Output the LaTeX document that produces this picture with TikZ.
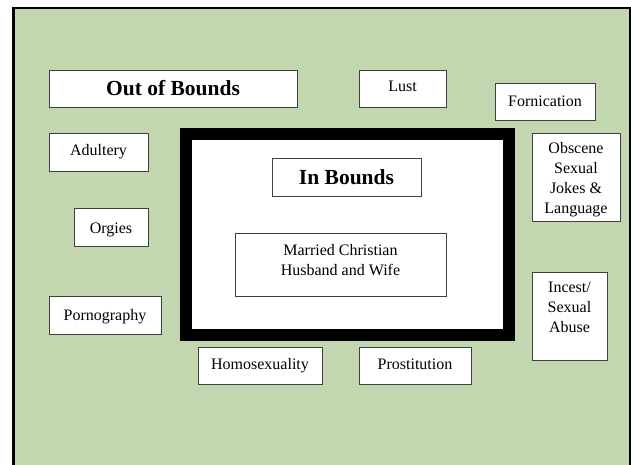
\documentclass[tikz,border=0pt]{standalone}
\usepackage{fontspec}
\setmainfont{Liberation Serif}
\definecolor{bggreen}{RGB}{194,215,176}
\definecolor{boxline}{RGB}{64,64,64}
\newcommand{\liftlines}[2]{\raisebox{#1}[\height][\depth]{\begin{tabular}{@{}c@{}}#2\end{tabular}}}
\tikzset{
  lbl/.style={draw=boxline, line width=1pt, fill=white, inner sep=0pt, align=center,
    font=\fontsize{16}{20}\selectfont},
  hdr/.style={lbl, font=\fontsize{21.5}{24}\selectfont\bfseries},
}
\begin{document}
\begin{tikzpicture}[x=1pt,y=-1pt]
\useasboundingbox (0,0) rectangle (631,464);
\begin{scope}
\clip (0,0) rectangle (631,464);
\fill[bggreen] (12,7) rectangle (631,470);
\draw[line width=2.5pt] (13.5,470) -- (13.5,8) -- (630,8) -- (630,470);
\end{scope}
% in-bounds frame
\node[draw=black, line width=12pt, fill=white, minimum width=323pt, minimum height=200.5pt, inner sep=0pt] (frame) at (347.5,234.25) {};
% headers
\node[hdr, minimum width=248pt, minimum height=37pt] (out) at (173,88.5) {Out of Bounds};
\node[hdr, minimum width=149pt, minimum height=38pt] (in) at (346.5,177) {In Bounds};
\node[lbl, minimum width=211pt, minimum height=63pt] (married) at (340.5,264.5) {\liftlines{3.5pt}{Married Christian\\Husband and Wife}};
% out of bounds items
\node[lbl, minimum width=87pt, minimum height=37pt] (lust) at (402.5,88.5) {\liftlines{1pt}{Lust}};
\node[lbl, minimum width=100pt, minimum height=37pt] (forn) at (545,101.5) {Fornication};
\node[lbl, minimum width=99pt, minimum height=38pt] (adult) at (98.5,152) {Adultery};
\node[lbl, minimum width=88pt, minimum height=88pt] (obsc) at (576,177) {\liftlines{-2.5pt}{Obscene\\Sexual\\Jokes \&\\Language}};
\node[lbl, minimum width=74pt, minimum height=38pt] (orgies) at (111,227) {\liftlines{-2pt}{Orgies}};
\node[lbl, minimum width=112pt, minimum height=38pt] (porn) at (105,315) {\liftlines{-1.5pt}{Pornography}};
\node[lbl, minimum width=75pt, minimum height=88pt] (incest) at (569.5,316) {\liftlines{8pt}{Incest/\\Sexual\\Abuse}};
\node[lbl, minimum width=124pt, minimum height=37pt] (homo) at (260,366) {Homosexuality};
\node[lbl, minimum width=112pt, minimum height=37pt] (prost) at (415,366) {\liftlines{1pt}{Prostitution}};
\end{tikzpicture}
\end{document}
